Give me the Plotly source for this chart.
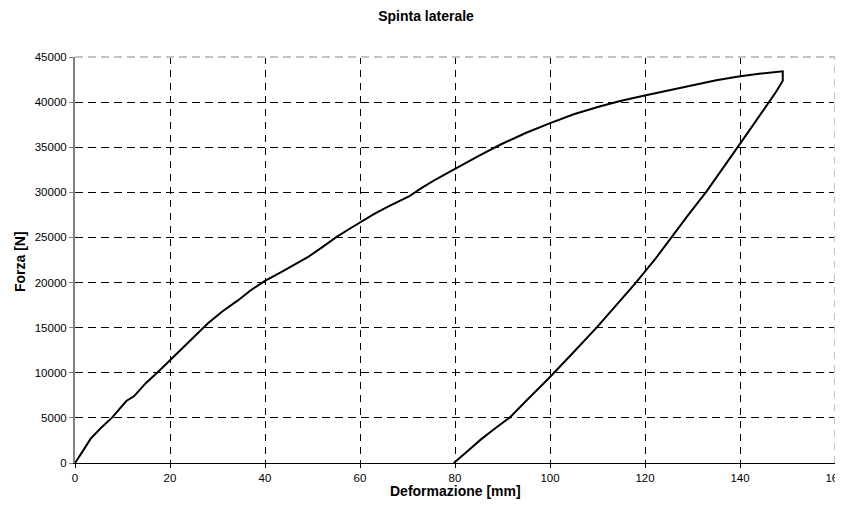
import plotly.graph_objects as go

# Loading branch (Deformazione [mm], Forza [N])
load_x = [0, 0.4, 1.5, 3.3, 5.5, 7.8, 10.8, 12.4, 15, 17.3, 20, 24, 28, 31, 34.3, 37, 39.9,
          43.4, 46, 49, 52, 55, 58, 61, 63, 66, 68, 70.3, 73, 76, 79.9, 85, 89.6, 95, 99.9,
          105, 110.6, 115, 119.7, 125, 131.7, 135, 139.7, 144, 149.0]
load_y = [0, 300, 1200, 2700, 3900, 5030, 6870, 7390, 8900, 10000, 11400, 13400, 15500, 16800,
          18020, 19150, 20150, 21150, 21950, 22810, 23900, 25030, 26020, 27000, 27620, 28450,
          29000, 29540, 30500, 31450, 32560, 34050, 35300, 36600, 37650, 38650, 39550, 40150,
          40700, 41320, 42060, 42420, 42830, 43150, 43410]

# Unloading branch
unload_x = [149.0, 147.6, 146.1, 143, 139.4, 136, 133, 129, 125.4, 122, 118, 114, 109.9,
            105, 99.75, 95, 91.5, 88, 85.4, 82.5, 79.75]
unload_y = [42380, 41150, 39980, 37640, 34930, 32380, 30130, 27420, 24960, 22500, 19930,
            17500, 15060, 12300, 9400, 6900, 5030, 3650, 2590, 1250, 0]

x_ticks = [0, 20, 40, 60, 80, 100, 120, 140, 160]
y_ticks = [0, 5000, 10000, 15000, 20000, 25000, 30000, 35000, 40000, 45000]

deform = load_x + unload_x
forza = load_y + unload_y

fig = go.Figure()
fig.add_trace(go.Scatter(x=deform, y=forza, mode="lines",
                         line=dict(color="black", width=2), showlegend=False))

FONT = "Liberation Sans, Arial, sans-serif"

# page body has an 8px default margin: margins compensate for it
fig.update_layout(
    width=843, height=512,
    margin=dict(l=67, r=16, t=49, b=57, autoexpand=False),
    paper_bgcolor="white", plot_bgcolor="white",
    font=dict(family=FONT, color="black", size=11.5),
    title=dict(text="<b>Spinta laterale</b>", x=418 / 843, xanchor="center",
               y=1 - 8 / 512, yanchor="middle", yref="container",
               font=dict(size=14, family=FONT, color="black")),
    xaxis=dict(range=[0, 160], tickvals=x_ticks, ticktext=[str(v) for v in x_ticks],
               showgrid=True, gridcolor="black", gridwidth=1, griddash="7px,6px",
               showline=True, linecolor="black", linewidth=1,
               ticks="outside", ticklen=4, tickcolor="black", automargin=False,
               zeroline=False, tickfont=dict(size=11.5)),
    yaxis=dict(range=[0, 45000], tickvals=y_ticks, ticktext=[str(v) for v in y_ticks],
               showgrid=True, gridcolor="black", gridwidth=1, griddash="8px,5px",
               showline=True, linecolor="#808080", linewidth=2,
               ticks="outside", ticklen=4, tickcolor="#808080", automargin=False,
               zeroline=False, tickfont=dict(size=11.5)),
    annotations=[
        dict(text="<b>Deformazione [mm]</b>", xref="paper", yref="paper",
             x=0.5, y=-(483 - 455) / 406, xanchor="center", yanchor="middle",
             showarrow=False, font=dict(size=14, family=FONT, color="black")),
        dict(text="<b>Forza [N]</b>", xref="paper", yref="paper",
             x=-(67 - 12) / 760, y=0.495, xanchor="center", yanchor="middle",
             textangle=-90, showarrow=False,
             font=dict(size=14, family=FONT, color="black")),
    ],
    shapes=[
        dict(type="line", xref="paper", yref="paper", x0=0, x1=1, y0=1, y1=1,
             line=dict(color="white", width=2), layer="above"),
        dict(type="line", xref="paper", yref="paper", x0=1, x1=1, y0=0, y1=1,
             line=dict(color="white", width=2), layer="above"),
        dict(type="line", xref="paper", yref="paper", x0=0, x1=1, y0=1, y1=1,
             line=dict(color="#b0b0b0", width=1.5, dash="8px,5px"), layer="above"),
        dict(type="line", xref="paper", yref="paper", x0=1, x1=1, y0=0, y1=1,
             line=dict(color="#b0b0b0", width=1.5, dash="7px,6px"), layer="above"),
    ],
)

fig.write_html("out.html")
